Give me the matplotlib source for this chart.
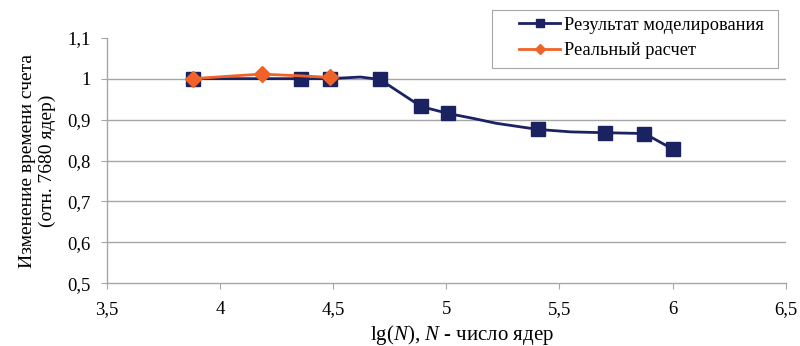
import matplotlib
matplotlib.use("Agg")
import matplotlib.pyplot as plt
from matplotlib.lines import Line2D
from matplotlib.patches import Rectangle

# Model results (smoothed curve; some points unmarked)
model_x = [3.879, 4.10, 4.357, 4.485, 4.62, 4.706, 4.888, 5.007, 5.118, 5.22, 5.405, 5.55, 5.70, 5.876, 6.001]
model_y = [1.000, 1.000, 1.000, 1.000, 1.004, 0.998, 0.932, 0.915, 0.903, 0.891, 0.876, 0.870, 0.868, 0.866, 0.828]
model_marked = [0, 2, 3, 5, 6, 7, 10, 12, 13, 14]

# Real computation
real_x = [3.879, 4.12, 4.185, 4.35, 4.485]
real_y = [1.000, 1.009, 1.011, 1.007, 1.003]
real_marked = [0, 2, 4]

series_names = ['Результат моделирования', 'Реальный расчет']

xticks = [3.5, 4, 4.5, 5, 5.5, 6, 6.5]
yticks = [0.5, 0.6, 0.7, 0.8, 0.9, 1.0, 1.1]

def fmt(v):
    return ("%g" % v).replace(".", ",")

plt.rcParams['font.family'] = ['Liberation Serif', 'DejaVu Serif']
plt.rcParams['mathtext.fontset'] = 'custom'
plt.rcParams['mathtext.rm'] = 'Liberation Serif'
plt.rcParams['mathtext.it'] = 'Liberation Serif:italic'

fig = plt.figure(figsize=(8, 3.46), dpi=100)
ax = fig.add_axes([0.134, 0.181, 0.848, 0.710])

for y in yticks[1:-1]:
    ax.axhline(y, color='#a6a6a6', lw=1.0, zorder=0)

navy = '#1b2262'
orange = '#ef6328'
ax.plot(model_x, model_y, color=navy, lw=2.0, marker='s', markersize=9.5,
        markevery=model_marked, zorder=3)
ax.plot(real_x, real_y, color=orange, lw=2.0, marker='D', markersize=8,
        markevery=real_marked, zorder=4)

ax.set_xlim(3.5, 6.5)
ax.set_ylim(0.5, 1.1)
ax.set_xticks(xticks)
ax.set_xticklabels([fmt(v) for v in xticks])
ax.set_yticks(yticks)
ax.set_yticklabels([fmt(v) for v in yticks])
ax.tick_params(axis='both', labelsize=13.5, color='#a6a6a6', length=4, direction='out')
ax.tick_params(axis='x', pad=9)
ax.tick_params(axis='y', pad=8)
for s in ['top', 'right']:
    ax.spines[s].set_visible(False)
for s in ['left', 'bottom']:
    ax.spines[s].set_color('#a6a6a6')
    ax.spines[s].set_linewidth(1.0)

ax.set_xlabel(r'lg($\mathit{N}$), $\mathit{N}$ - число ядер', fontsize=15, labelpad=5)
ax.xaxis.set_label_coords(0.523, -0.16)
ax.set_ylabel('Изменение времени счета\n(отн. 7680 ядер)', fontsize=14, labelpad=8, linespacing=1.2)

# legend box
fig.patches.append(Rectangle((0.615, 0.8035), 0.3575, 0.1676, transform=fig.transFigure,
                             facecolor='white', edgecolor='#a6a6a6', lw=0.8, zorder=5))
handles = [Line2D([], [], color=navy, lw=2.0, marker='s', markersize=6),
           Line2D([], [], color=orange, lw=2.0, marker='D', markersize=5.5)]
leg = fig.legend(handles, series_names, loc='upper left', bbox_to_anchor=(519 / 800, 0.952),
                 bbox_transform=fig.transFigure, fontsize=13.2, frameon=False,
                 borderpad=0, borderaxespad=0, handlelength=2.25, handletextpad=0.2,
                 labelspacing=0.47)
leg.set_zorder(6)

fig.savefig('out.png', dpi=100)
